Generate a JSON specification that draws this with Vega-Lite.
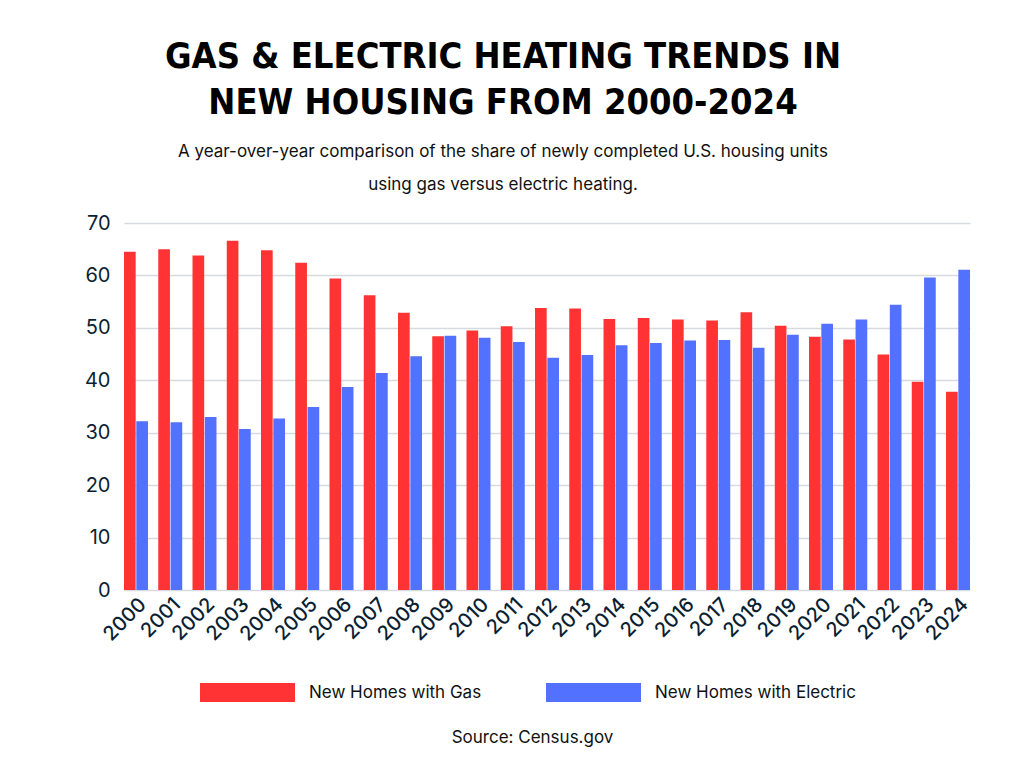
{
  "$schema": "https://vega.github.io/schema/vega-lite/v6.json",
  "width": 846,
  "height": 367,
  "autosize": {"type": "none"},
  "padding": {"left": 124, "top": 223, "right": 54, "bottom": 178},
  "background": "white",
  "title": {
    "text": ["GAS & ELECTRIC HEATING TRENDS IN", "NEW HOUSING FROM 2000-2024"],
    "subtitle": ["A year-over-year comparison of the share of newly completed U.S. housing units", "using gas versus electric heating."],
    "anchor": "middle",
    "frame": "group",
    "dx": -44,
    "offset": 19,
    "font": "DejaVu Sans Condensed, Liberation Sans Narrow, DejaVu Sans, sans-serif",
    "fontSize": 36,
    "fontWeight": "bold",
    "lineHeight": 46,
    "color": "#000000",
    "subtitleFont": "Inter",
    "subtitleFontSize": 17,
    "subtitleColor": "#111111",
    "subtitleLineHeight": 33,
    "subtitlePadding": 22
  },
  "config": {
    "view": {"stroke": null},
    "axis": {"labelFont": "Inter", "titleFont": "Inter"},
    "legend": {"labelFont": "Inter", "titleFont": "Inter"}
  },
  "data": {
    "values": [
      {"year": "2000", "type": "New Homes with Gas", "share": 64.5},
      {"year": "2000", "type": "New Homes with Electric", "share": 32.2},
      {"year": "2001", "type": "New Homes with Gas", "share": 65.0},
      {"year": "2001", "type": "New Homes with Electric", "share": 32.0},
      {"year": "2002", "type": "New Homes with Gas", "share": 63.8},
      {"year": "2002", "type": "New Homes with Electric", "share": 33.0},
      {"year": "2003", "type": "New Homes with Gas", "share": 66.6},
      {"year": "2003", "type": "New Homes with Electric", "share": 30.7},
      {"year": "2004", "type": "New Homes with Gas", "share": 64.8},
      {"year": "2004", "type": "New Homes with Electric", "share": 32.7},
      {"year": "2005", "type": "New Homes with Gas", "share": 62.4},
      {"year": "2005", "type": "New Homes with Electric", "share": 34.9},
      {"year": "2006", "type": "New Homes with Gas", "share": 59.4},
      {"year": "2006", "type": "New Homes with Electric", "share": 38.7},
      {"year": "2007", "type": "New Homes with Gas", "share": 56.2},
      {"year": "2007", "type": "New Homes with Electric", "share": 41.4},
      {"year": "2008", "type": "New Homes with Gas", "share": 52.9},
      {"year": "2008", "type": "New Homes with Electric", "share": 44.6},
      {"year": "2009", "type": "New Homes with Gas", "share": 48.4},
      {"year": "2009", "type": "New Homes with Electric", "share": 48.5},
      {"year": "2010", "type": "New Homes with Gas", "share": 49.5},
      {"year": "2010", "type": "New Homes with Electric", "share": 48.1},
      {"year": "2011", "type": "New Homes with Gas", "share": 50.3},
      {"year": "2011", "type": "New Homes with Electric", "share": 47.3},
      {"year": "2012", "type": "New Homes with Gas", "share": 53.8},
      {"year": "2012", "type": "New Homes with Electric", "share": 44.3},
      {"year": "2013", "type": "New Homes with Gas", "share": 53.7},
      {"year": "2013", "type": "New Homes with Electric", "share": 44.8},
      {"year": "2014", "type": "New Homes with Gas", "share": 51.7},
      {"year": "2014", "type": "New Homes with Electric", "share": 46.7},
      {"year": "2015", "type": "New Homes with Gas", "share": 51.9},
      {"year": "2015", "type": "New Homes with Electric", "share": 47.1},
      {"year": "2016", "type": "New Homes with Gas", "share": 51.6},
      {"year": "2016", "type": "New Homes with Electric", "share": 47.6},
      {"year": "2017", "type": "New Homes with Gas", "share": 51.4},
      {"year": "2017", "type": "New Homes with Electric", "share": 47.7},
      {"year": "2018", "type": "New Homes with Gas", "share": 53.0},
      {"year": "2018", "type": "New Homes with Electric", "share": 46.2},
      {"year": "2019", "type": "New Homes with Gas", "share": 50.4},
      {"year": "2019", "type": "New Homes with Electric", "share": 48.7},
      {"year": "2020", "type": "New Homes with Gas", "share": 48.3},
      {"year": "2020", "type": "New Homes with Electric", "share": 50.8},
      {"year": "2021", "type": "New Homes with Gas", "share": 47.8},
      {"year": "2021", "type": "New Homes with Electric", "share": 51.6},
      {"year": "2022", "type": "New Homes with Gas", "share": 44.9},
      {"year": "2022", "type": "New Homes with Electric", "share": 54.4},
      {"year": "2023", "type": "New Homes with Gas", "share": 39.7},
      {"year": "2023", "type": "New Homes with Electric", "share": 59.6},
      {"year": "2024", "type": "New Homes with Gas", "share": 37.8},
      {"year": "2024", "type": "New Homes with Electric", "share": 61.1}
    ]
  },
  "mark": {"type": "bar"},
  "encoding": {
    "x": {
      "field": "year",
      "type": "nominal",
      "scale": {"paddingInner": 0.3, "paddingOuter": 0},
      "title": "Source: Census.gov",
      "axis": {
        "labelAngle": -45,
        "labelFontSize": 20,
        "labelFontWeight": 500,
        "labelColor": "#0b1f33",
        "labelPadding": 4,
        "ticks": false,
        "domain": false,
        "titleFontSize": 17,
        "titleFontWeight": "normal",
        "titleColor": "#111111",
        "titlePadding": 85,
        "titleX": 408
      }
    },
    "xOffset": {
      "field": "type",
      "type": "nominal",
      "sort": ["New Homes with Gas", "New Homes with Electric"],
      "scale": {"paddingInner": 0.05}
    },
    "y": {
      "field": "share",
      "type": "quantitative",
      "title": null,
      "scale": {"domain": [0, 70]},
      "axis": {
        "values": [0, 10, 20, 30, 40, 50, 60, 70],
        "labelFontSize": 20,
        "labelColor": "#0b1f33",
        "labelPadding": 14,
        "ticks": false,
        "domain": false,
        "gridColor": "#d7dbdf",
        "gridWidth": 1.5
      }
    },
    "color": {
      "field": "type",
      "type": "nominal",
      "sort": ["New Homes with Gas", "New Homes with Electric"],
      "scale": {
        "domain": ["New Homes with Gas", "New Homes with Electric"],
        "range": ["#ff3333", "#5271ff"]
      },
      "legend": {
        "title": null,
        "orient": "none",
        "direction": "horizontal",
        "legendX": 76,
        "legendY": 422,
        "symbolType": "M-1,-0.2H1V0.2H-1Z",
        "symbolSize": 9025,
        "symbolStrokeWidth": 0,
        "labelFontSize": 17,
        "labelColor": "#111111",
        "labelOffset": 14,
        "columnPadding": 64,
        "labelLimit": 300
      }
    }
  }
}
